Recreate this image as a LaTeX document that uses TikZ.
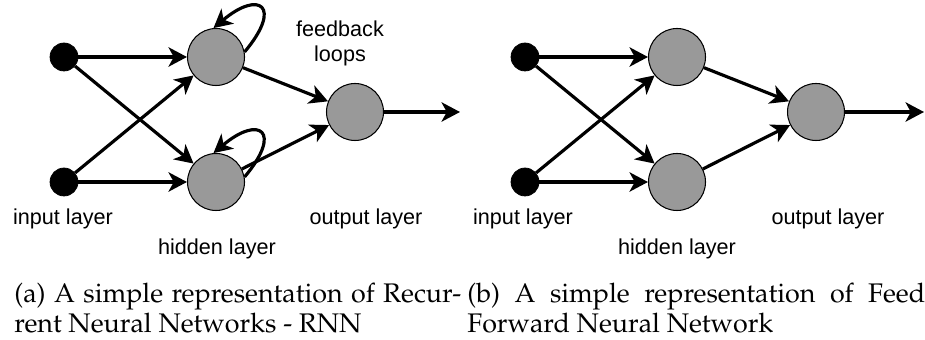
\documentclass[tikz,border=0pt]{standalone}
\usepackage[T1]{fontenc}
\usepackage{fontspec}
\setmainfont{Liberation Sans}
\usetikzlibrary{arrows.meta}
\definecolor{cNode}{RGB}{153,153,153}
\newcommand{\capfont}{\fontencoding{T1}\fontfamily{ppl}\fontsize{15.3}{19}\selectfont}

\begin{document}
\begin{tikzpicture}[
  x=0.02cm, y=-0.02cm,
  >={Stealth[length=10.5pt, width=11pt, inset=3pt]},
  inp/.style={circle, draw=black, fill=black, minimum size=0.56cm, inner sep=0pt},
  neuron/.style={circle, draw=black, fill=cNode, line width=0.6pt,
                 minimum size=1.14cm, inner sep=0pt},
  arr/.style={->, line width=1.8pt},
  lbl/.style={anchor=base, inner sep=0pt, align=center,
              font=\fontsize{12.3}{14.4}\selectfont},
  captxt/.style={anchor=base west, inner sep=0pt, font=\capfont}
]
\useasboundingbox (0,0) rectangle (925,340);

%%=============================================================================
%% PANEL A -- recurrent network
%%=============================================================================

%% Nodes
\node[inp]    (in1_a) at (64, 57) {};
\node[inp]    (in2_a) at (64, 182) {};
\node[neuron] (hid1_a) at (216, 57) {};
\node[neuron] (hid2_a) at (216, 182) {};
\node[neuron] (out_a) at (355, 112) {};
\coordinate   (end_a) at (460, 112);

%% Labels
\node[lbl] (lin_a)  at (63, 225)  {input layer};
\node[lbl] (lhid_a) at (217, 255) {hidden layer};
\node[lbl] (lout_a) at (366, 225) {output layer};
% base of a two-line node = baseline of its last line
\node[lbl] (lfb_a)  at (340, 62)  {feedback\\loops};

%% Arrows
\draw[arr] (in1_a)  -- (hid1_a);
\draw[arr] (in1_a)  -- (hid2_a);
\draw[arr] (in2_a)  -- (hid1_a);
\draw[arr] (in2_a)  -- (hid2_a);
\draw[arr] (hid1_a) -- (out_a);
\draw[arr] (hid2_a) -- (out_a);
\draw[arr] (out_a)  -- (end_a);

%% Feedback loops
\draw[arr] (hid1_a.10) to[out=50, in=40, looseness=3.9] (hid1_a.95);
\draw[arr] (hid2_a.10) to[out=50, in=40, looseness=3.9] (hid2_a.95);

%% Caption
\node[captxt] (cap1_a) at (14, 303)
  {\makebox[8.94cm][s]{(a) A simple representation of Recur-}};
\node[captxt] (cap2_a) at (14, 333) {rent Neural Networks - RNN};

%%=============================================================================
%% PANEL B -- feed forward network
%%=============================================================================

%% Nodes
\node[inp]    (in1_b) at (525, 57) {};
\node[inp]    (in2_b) at (525, 182) {};
\node[neuron] (hid1_b) at (677, 57) {};
\node[neuron] (hid2_b) at (677, 182) {};
\node[neuron] (out_b) at (816, 112) {};
\coordinate   (end_b) at (924, 112);

%% Labels
\node[lbl] (lin_b)  at (523, 225) {input layer};
\node[lbl] (lhid_b) at (677, 255) {hidden layer};
\node[lbl] (lout_b) at (828, 225) {output layer};

%% Arrows
\draw[arr] (in1_b)  -- (hid1_b);
\draw[arr] (in1_b)  -- (hid2_b);
\draw[arr] (in2_b)  -- (hid1_b);
\draw[arr] (in2_b)  -- (hid2_b);
\draw[arr] (hid1_b) -- (out_b);
\draw[arr] (hid2_b) -- (out_b);
\draw[arr] (out_b)  -- (end_b);

%% Caption
\node[captxt] (cap1_b) at (467, 303)
  {\makebox[9.16cm][s]{(b) A simple representation of Feed}};
\node[captxt] (cap2_b) at (467, 333) {Forward Neural Network};

\end{tikzpicture}
\end{document}
